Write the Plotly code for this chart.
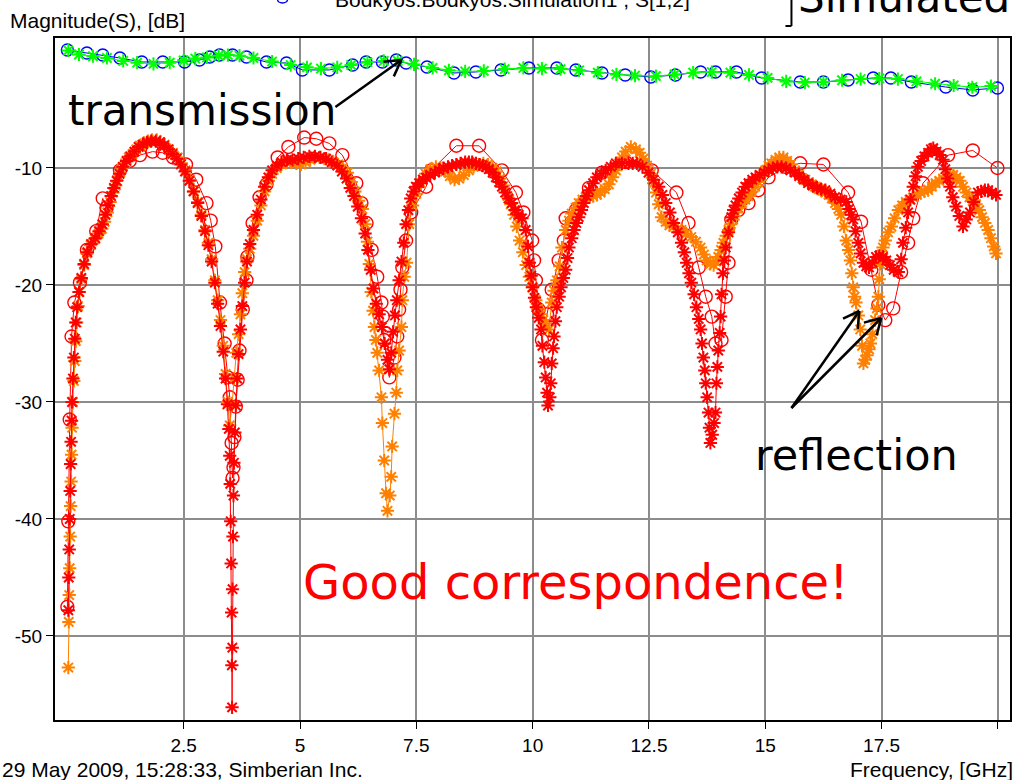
import math
import plotly.graph_objects as go

# ---------------- data (frequency in GHz, magnitude in dB) ----------------
# reflection, simulated (orange asterisks)
refl_sim_a_f = [0.02, 0.03, 0.04, 0.05, 0.06, 0.07, 0.08, 0.09, 0.10, 0.12, 0.14, 0.16, 0.18, 0.20, 0.23, 0.26,
                0.30, 0.36, 0.42, 0.50, 0.59, 0.67, 0.74, 0.80, 0.86, 0.92, 0.98, 1.04, 1.10, 1.16, 1.24, 1.32,
                1.40, 1.48, 1.56, 1.65, 1.73, 1.82, 1.92, 2.00, 2.09, 2.18, 2.27, 2.37, 2.45, 2.54, 2.63, 2.72,
                2.80, 2.88, 2.96, 3.03, 3.10, 3.17, 3.23, 3.29, 3.35, 3.40, 3.45, 3.49, 3.54, 3.58, 3.63, 3.68,
                3.72, 3.76, 3.81, 3.86, 3.92, 4.00, 4.08, 4.16, 4.24, 4.32, 4.40, 4.50, 4.60, 4.70, 4.80, 4.92,
                5.02, 5.12, 5.22, 5.32, 5.42, 5.52, 5.62, 5.72, 5.82, 5.92, 6.02, 6.10, 6.18, 6.26, 6.34, 6.40,
                6.45, 6.49, 6.53, 6.57, 6.60, 6.63, 6.66, 6.70, 6.75, 6.77, 6.81, 6.85, 6.88, 6.93, 6.96, 6.98,
                7.03, 7.07, 7.09, 7.13, 7.18, 7.20, 7.24, 7.29, 7.35, 7.42, 7.50, 7.60, 7.70, 7.80, 7.92, 8.02,
                8.12, 8.22, 8.32, 8.42, 8.52, 8.63, 8.73, 8.84, 8.94, 9.04, 9.14, 9.22, 9.30, 9.38, 9.46, 9.53,
                9.60, 9.66, 9.72, 9.79, 9.86, 9.93, 9.99, 10.07, 10.13, 10.18, 10.23, 10.28, 10.35, 10.41, 10.46,
                10.52, 10.58, 10.63, 10.71, 10.78, 10.84, 10.92, 10.99, 11.07, 11.14, 11.22, 11.30, 11.38, 11.46,
                11.55, 11.64, 11.72, 11.79, 11.86, 11.92, 12.00, 12.11, 12.22, 12.30, 12.38, 12.46, 12.54, 12.60,
                12.65, 12.71, 12.77, 12.86, 12.94, 13.03, 13.12, 13.20, 13.30, 13.41, 13.51, 13.61, 13.68, 13.74,
                13.82, 13.89, 13.94, 13.99, 14.05, 14.10, 14.16, 14.21, 14.26, 14.31, 14.37, 14.42, 14.50, 14.57,
                14.64, 14.71, 14.78, 14.85, 14.92, 15.00, 15.07, 15.13, 15.22, 15.30, 15.39, 15.47, 15.55, 15.64,
                15.72, 15.80, 15.86, 15.94, 16.00, 16.07, 16.15, 16.22, 16.29, 16.36, 16.43, 16.50, 16.57, 16.63,
                16.69, 16.74, 16.79, 16.83, 16.86, 16.89, 16.92, 16.95, 17.00, 17.04, 17.08, 17.11, 17.15, 17.19,
                17.23, 17.26, 17.30, 17.36, 17.40, 17.43, 17.45, 17.47, 17.50, 17.53, 17.58, 17.64, 17.71, 17.78,
                17.86, 17.94, 18.02, 18.10, 18.18, 18.26, 18.34, 18.42, 18.50, 18.58, 18.66, 18.74, 18.82, 18.90,
                18.97, 19.04, 19.11, 19.18, 19.25, 19.32, 19.39, 19.46, 19.53, 19.60, 19.66, 19.72, 19.79, 19.85,
                19.91, 19.96]
refl_sim_a_db = [-52.7, -48.8, -46.5, -44.2, -41.5, -38.9, -36.8, -34.5, -32.2, -30.0, -28.2, -26.5, -24.8, -23.2,
                 -21.8, -20.6, -19.5, -18.3, -17.3, -16.6, -16.1, -15.6, -15.2, -14.6, -13.8, -12.9, -12.1, -11.5,
                 -10.7, -10.1, -9.6, -9.1, -8.8, -8.4, -8.1, -7.9, -7.7, -7.6, -7.6, -7.8, -8.0, -8.4, -8.7, -9.1,
                 -9.6, -10.2, -11.0, -12.0, -12.9, -14.0, -15.3, -16.4, -17.8, -19.6, -21.3, -23.0, -25.2, -27.6,
                 -30.0, -32.0, -30.2, -28.0, -25.8, -24.2, -22.5, -20.7, -18.9, -17.8, -16.9, -15.8, -14.5, -13.2,
                 -12.0, -11.1, -10.5, -10.0, -9.7, -9.5, -9.5, -9.6, -9.7, -9.5, -9.3, -9.1, -9.1, -9.2, -9.3, -9.5,
                 -9.7, -10.0, -10.4, -11.2, -12.0, -12.8, -13.5, -14.8, -16.3, -18.2, -20.6, -22.2, -23.6, -24.7,
                 -25.8, -27.3, -29.6, -31.8, -35.0, -37.8, -39.3, -38.0, -36.4, -33.8, -31.0, -29.2, -27.3, -25.6,
                 -23.6, -21.3, -19.3, -18.1, -14.8, -13.2, -12.2, -11.3, -10.5, -10.1, -9.9, -10.0, -10.3, -10.7,
                 -11.0, -10.9, -10.6, -10.2, -9.9, -9.7, -9.6, -9.7, -10.0, -10.3, -10.9, -11.5, -12.4, -13.1,
                 -14.0, -15.0, -16.2, -17.2, -18.3, -19.3, -20.2, -21.3, -22.0, -22.5, -23.0, -23.3, -23.8, -21.5,
                 -20.5, -19.6, -18.4, -16.8, -15.3, -14.5, -13.9, -13.4, -13.0, -12.7, -12.5, -12.5, -12.4, -12.3,
                 -12.1, -11.8, -11.4, -10.8, -10.2, -9.6, -9.1, -8.6, -8.2, -8.4, -8.7, -9.2, -9.8, -10.5, -11.3,
                 -12.1, -13.1, -14.2, -14.6, -14.9, -15.0, -15.2, -15.3, -15.6, -15.9, -16.3, -16.8, -17.4, -17.9,
                 -18.2, -18.3, -18.0, -17.6, -17.0, -16.4, -15.8, -15.3, -14.8, -14.4, -13.8, -13.4, -13.0, -12.7,
                 -12.4, -12.0, -11.6, -11.2, -10.7, -10.2, -9.8, -9.6, -9.3, -9.1, -9.1, -9.4, -9.7, -10.2, -10.6,
                 -10.9, -11.0, -11.2, -11.4, -11.6, -11.8, -11.9, -12.1, -12.3, -12.6, -13.0, -13.5, -14.0, -15.0,
                 -16.2, -17.0, -17.9, -19.0, -20.2, -21.0, -21.5, -22.6, -23.8, -25.2, -26.7, -26.4, -26.0, -25.5,
                 -25.0, -24.2, -23.0, -22.0, -21.0, -19.5, -18.2, -17.4, -16.8, -16.2, -15.5, -15.0, -14.3, -13.6,
                 -13.2, -12.9, -12.7, -12.5, -12.3, -12.1, -12.0, -11.9, -11.6, -11.3, -11.1, -10.9, -10.7, -10.6,
                 -10.6, -10.8, -11.1, -11.6, -12.1, -12.5, -12.8, -13.1, -13.6, -14.2, -14.7, -15.3, -16.0, -16.7,
                 -17.3]

# reflection, simulated (red asterisks)
refl_sim_b_f = [0.02, 0.03, 0.04, 0.05, 0.06, 0.07, 0.08, 0.09, 0.10, 0.12, 0.14, 0.16, 0.18, 0.21, 0.25, 0.30,
                0.36, 0.43, 0.51, 0.60, 0.68, 0.75, 0.82, 0.88, 0.94, 1.00, 1.06, 1.12, 1.19, 1.27, 1.35, 1.44,
                1.53, 1.62, 1.71, 1.80, 1.90, 1.99, 2.08, 2.17, 2.26, 2.35, 2.44, 2.53, 2.62, 2.71, 2.80, 2.88,
                2.96, 3.03, 3.10, 3.17, 3.23, 3.29, 3.35, 3.40, 3.44, 3.47, 3.49, 3.50, 3.51, 3.52, 3.53, 3.535,
                3.54, 3.545, 3.55, 3.56, 3.57, 3.58, 3.60, 3.62, 3.65, 3.68, 3.72, 3.76, 3.81, 3.86, 3.92, 4.00,
                4.08, 4.16, 4.24, 4.32, 4.40, 4.50, 4.60, 4.72, 4.84, 4.96, 5.08, 5.20, 5.32, 5.44, 5.56, 5.68,
                5.80, 5.90, 6.00, 6.08, 6.16, 6.24, 6.32, 6.40, 6.46, 6.52, 6.58, 6.64, 6.70, 6.76, 6.82, 6.88,
                6.92, 6.96, 7.00, 7.04, 7.08, 7.13, 7.18, 7.23, 7.28, 7.33, 7.38, 7.44, 7.49, 7.56, 7.64, 7.71,
                7.80, 7.90, 7.99, 8.08, 8.18, 8.27, 8.36, 8.45, 8.55, 8.63, 8.70, 8.78, 8.86, 8.93, 8.99, 9.06,
                9.14, 9.21, 9.28, 9.34, 9.41, 9.48, 9.55, 9.62, 9.70, 9.77, 9.85, 9.90, 9.93, 9.97, 10.00, 10.04,
                10.08, 10.13, 10.18, 10.21, 10.25, 10.28, 10.31, 10.33, 10.37, 10.39, 10.41, 10.44, 10.46, 10.49,
                10.52, 10.57, 10.61, 10.66, 10.71, 10.75, 10.78, 10.84, 10.89, 10.94, 10.99, 11.05, 11.10, 11.16,
                11.21, 11.30, 11.38, 11.48, 11.57, 11.68, 11.79, 11.92, 12.06, 12.15, 12.24, 12.36, 12.49, 12.60,
                12.71, 12.79, 12.86, 12.95, 13.03, 13.12, 13.20, 13.26, 13.31, 13.36, 13.41, 13.47, 13.52, 13.57,
                13.61, 13.64, 13.67, 13.70, 13.72, 13.75, 13.78, 13.80, 13.82, 13.86, 13.90, 13.93, 13.95, 13.97,
                13.99, 14.02, 14.04, 14.06, 14.09, 14.12, 14.15, 14.21, 14.27, 14.32, 14.36, 14.43, 14.50, 14.57,
                14.64, 14.72, 14.79, 14.88, 14.98, 15.07, 15.16, 15.26, 15.35, 15.45, 15.54, 15.64, 15.73, 15.83,
                15.92, 16.02, 16.11, 16.20, 16.29, 16.40, 16.50, 16.62, 16.74, 16.80, 16.85, 16.89, 16.94, 17.00,
                17.05, 17.11, 17.17, 17.23, 17.30, 17.38, 17.45, 17.53, 17.60, 17.68, 17.76, 17.86, 17.92, 17.96,
                18.02, 18.07, 18.12, 18.18, 18.23, 18.28, 18.35, 18.42, 18.50, 18.56, 18.61, 18.68, 18.75, 18.82,
                18.87, 18.92, 18.97, 19.03, 19.10, 19.17, 19.25, 19.32, 19.40, 19.48, 19.57, 19.64, 19.72, 19.79,
                19.87, 19.96]
refl_sim_b_db = [-47.8, -45.0, -42.6, -40.0, -37.6, -35.3, -33.4, -31.6, -30.0, -28.0, -26.2, -24.6, -23.2, -21.9,
                 -20.6, -19.4, -18.2, -17.2, -16.5, -16.0, -15.4, -14.8, -14.0, -13.2, -12.4, -11.7, -11.1, -10.5,
                 -9.9, -9.4, -9.0, -8.6, -8.2, -8.0, -7.8, -7.7, -7.7, -7.8, -8.1, -8.4, -8.8, -9.2, -9.7, -10.3,
                 -11.1, -12.0, -13.0, -14.1, -15.4, -16.6, -18.0, -19.8, -21.6, -23.5, -25.7, -28.0, -30.2, -32.3,
                 -34.6, -37.0, -40.2, -43.8, -48.0, -52.5, -56.1, -51.0, -46.0, -41.5, -38.0, -35.2, -32.6, -30.3,
                 -28.0, -25.9, -23.8, -21.8, -19.8, -18.0, -16.5, -15.3, -14.0, -12.7, -11.6, -10.8, -10.2, -9.8,
                 -9.5, -9.3, -9.3, -9.2, -9.1, -9.0, -9.0, -9.1, -9.2, -9.5, -9.8, -10.3, -10.9, -11.7, -12.4, -13.3,
                 -14.3, -15.6, -17.0, -18.7, -20.3, -21.6, -22.5, -23.6, -25.0, -26.4, -27.2, -25.8, -24.0, -22.6,
                 -21.3, -19.6, -18.0, -16.4, -14.8, -13.6, -12.6, -12.0, -11.6, -11.3, -11.0, -10.8, -10.6, -10.4,
                 -10.2, -10.0, -9.9, -9.8, -9.7, -9.6, -9.5, -9.5, -9.5, -9.6, -9.7, -9.8, -9.9, -10.1, -10.4, -10.8,
                 -11.2, -11.6, -12.1, -12.6, -13.0, -13.6, -14.0, -14.3, -15.3, -16.7, -18.1, -19.2, -20.2, -21.1,
                 -21.9, -22.8, -23.8, -25.2, -26.6, -27.9, -29.2, -30.3, -29.6, -28.4, -26.7, -25.4, -24.4, -23.1,
                 -21.9, -21.0, -20.2, -19.4, -18.7, -17.7, -16.8, -16.0, -15.3, -14.7, -14.2, -13.6, -13.0, -12.4,
                 -11.9, -11.3, -10.8, -10.5, -10.2, -9.9, -9.6, -9.6, -9.6, -9.6, -9.6, -9.9, -10.4, -11.0, -11.6,
                 -12.3, -13.0, -13.8, -14.7, -15.5, -16.4, -17.2, -18.1, -19.0, -19.8, -20.8, -21.9, -22.9, -23.8,
                 -25.0, -26.2, -27.3, -28.4, -29.6, -30.9, -32.2, -33.5, -32.8, -31.8, -30.9, -28.4, -27.0, -25.6,
                 -24.1, -22.7, -20.8, -19.0, -17.9, -16.8, -15.5, -14.2, -13.6, -13.2, -12.6, -12.1, -11.6, -11.3,
                 -11.0, -10.8, -10.6, -10.4, -10.2, -10.0, -9.9, -9.9, -10.0, -10.2, -10.4, -10.7, -11.0, -11.3,
                 -11.5, -11.7, -11.8, -11.9, -12.2, -12.5, -12.7, -12.9, -13.5, -14.0, -14.4, -15.4, -16.4, -17.3,
                 -18.1, -18.4, -18.5, -18.1, -17.6, -17.5, -17.6, -17.9, -18.3, -18.7, -18.9, -17.8, -16.4, -15.1,
                 -13.8, -12.7, -11.6, -10.7, -9.9, -9.4, -9.0, -8.7, -8.4, -8.3, -8.6, -8.9, -9.3, -10.1, -10.9,
                 -11.6, -12.5, -13.3, -14.1, -15.0, -14.4, -13.8, -12.9, -12.1, -12.0, -11.9, -11.9, -12.1, -12.3]

# reflection, measured (red circles)
refl_meas_f = [0.00, 0.02, 0.05, 0.09, 0.15, 0.27, 0.42, 0.62, 0.76, 0.84, 1.13, 1.34, 1.56, 1.83, 2.05, 2.27,
               2.55, 2.77, 2.99, 3.08, 3.18, 3.28, 3.38, 3.45, 3.49, 3.53, 3.55, 3.57, 3.59, 3.62, 3.66, 3.70,
               3.77, 3.85, 3.87, 3.98, 4.13, 4.28, 4.52, 4.75, 5.09, 5.35, 5.63, 5.91, 6.21, 6.32, 6.43, 6.54,
               6.66, 6.75, 6.78, 6.81, 6.92, 7.03, 7.09, 7.13, 7.16, 7.20, 7.28, 7.39, 7.71, 7.82, 8.36, 8.85,
               9.34, 9.64, 9.80, 9.99, 10.03, 10.07, 10.13, 10.20, 10.31, 10.41, 10.56, 10.67, 10.71, 10.93,
               11.21, 11.49, 12.00, 12.56, 13.09, 13.35, 13.57, 13.72, 13.85, 13.93, 14.06, 14.15, 14.21, 14.27,
               14.42, 14.64, 14.85, 15.07, 15.43, 15.75, 16.25, 16.78, 17.06, 17.28, 17.43, 17.58, 17.75, 17.92,
               18.07, 18.18, 18.39, 18.93, 19.46, 19.99]
refl_meas_db = [-47.5, -40.2, -31.5, -24.4, -21.5, -19.8, -17.0, -15.4, -12.6, -13.4, -10.2, -9.4, -8.9, -8.6,
                -8.7, -9.1, -9.7, -11.0, -13.0, -14.5, -16.7, -21.5, -25.0, -27.9, -29.6, -33.5, -36.5, -35.6,
                -33.0, -30.4, -28.1, -25.6, -22.1, -19.6, -17.6, -14.7, -12.5, -11.4, -9.1, -8.2, -7.4, -7.5,
                -7.9, -8.9, -11.3, -13.0, -14.7, -17.0, -19.3, -21.5, -22.7, -24.7, -27.9, -26.2, -24.4, -22.1,
                -20.4, -18.5, -16.2, -13.8, -11.6, -10.2, -8.1, -8.1, -10.2, -12.1, -13.8, -16.2, -17.9, -19.6,
                -22.1, -24.7, -22.5, -20.4, -17.9, -16.2, -14.3, -13.6, -11.7, -10.4, -9.5, -10.2, -12.1, -14.7,
                -18.5, -21.0, -22.7, -25.0, -24.7, -21.0, -18.1, -14.4, -13.6, -13.0, -11.9, -10.8, -9.9, -9.6,
                -9.7, -12.1, -14.6, -18.7, -21.7, -23.0, -22.0, -18.9, -16.4, -14.3, -11.3, -8.9, -8.5, -10.0]

# transmission, measured (blue circles)
trans_meas_f = [0.00, 0.42, 0.76, 1.13, 1.60, 2.05, 2.52, 2.84, 3.06, 3.27, 3.55, 3.85, 4.28, 4.71, 5.05, 5.63,
                6.13, 6.42, 6.77, 7.07, 7.28, 7.73, 8.31, 8.78, 9.32, 9.92, 10.52, 10.93, 11.49, 11.99, 12.54,
                13.07, 13.61, 13.93, 14.38, 14.92, 15.75, 16.25, 16.78, 17.32, 17.70, 18.14, 18.88, 19.46, 19.99]
trans_meas_db = [0.08, -0.17, -0.34, -0.60, -0.94, -0.94, -0.94, -0.77, -0.51, -0.34, -0.34, -0.51, -0.94,
                 -1.03, -1.62, -1.62, -1.20, -0.94, -0.94, -0.77, -1.03, -1.37, -1.88, -1.79, -1.62, -1.45, -1.45,
                 -1.62, -1.88, -2.05, -2.22, -2.05, -1.79, -1.79, -1.79, -2.31, -2.65, -2.65, -2.48, -2.31, -2.31,
                 -2.65, -3.08, -3.33, -3.16]

# transmission, simulated (green asterisks)
trans_sim_f = [0.02, 0.25, 0.55, 0.85, 1.20, 1.50, 1.85, 2.20, 2.50, 2.75, 3.00, 3.25, 3.45, 3.70, 4.00, 4.40,
               4.80, 5.15, 5.45, 5.80, 6.10, 6.45, 6.80, 7.10, 7.45, 7.85, 8.20, 8.55, 8.95, 9.40, 9.80, 10.20,
               10.60, 11.00, 11.40, 11.80, 12.20, 12.65, 13.05, 13.45, 13.85, 14.25, 14.65, 15.05, 15.45, 15.85,
               16.25, 16.65, 17.05, 17.45, 17.85, 18.25, 18.65, 19.05, 19.45, 19.85]
trans_sim_db = [0.05, -0.30, -0.45, -0.60, -0.85, -1.00, -1.10, -1.00, -0.80, -0.65, -0.55, -0.40, -0.35, -0.40,
                -0.60, -0.90, -1.20, -1.40, -1.50, -1.40, -1.20, -0.95, -0.85, -0.85, -1.15, -1.45, -1.65, -1.75,
                -1.70, -1.55, -1.45, -1.50, -1.55, -1.65, -1.85, -2.00, -2.10, -2.15, -2.00, -1.85, -1.80, -1.85,
                -2.05, -2.30, -2.60, -2.70, -2.65, -2.50, -2.40, -2.35, -2.40, -2.60, -2.80, -2.95, -3.10, -3.00]

# axis ticks
x_tick_vals = [2.5, 5, 7.5, 10, 12.5, 15, 17.5, 20]
x_tick_text = ["2.5", "5", "7.5", "10", "12.5", "15", "17.5", ""]
y_tick_vals = [-10, -20, -30, -40, -50]
y_tick_text = ["-10", "-20", "-30", "-40", "-50"]

# ---------------- figure ----------------
W, H = 1017, 780
L, R, T, B = 55, 5, 38, 60
PW, PH = W - L - R, H - T - B

RED = "#ff0000"
ORANGE = "#ff8000"
BLUE = "#0000ff"
GREEN = "#00ff00"

fig = go.Figure()


def add_series(fx, fy, color, symbol, size, lw):
    fig.add_trace(go.Scatter(
        x=fx, y=fy, mode="lines+markers",
        line=dict(color=color, width=1),
        marker=dict(symbol=symbol, size=size, color=color, line=dict(color=color, width=lw)),
        showlegend=False, hoverinfo="skip"))


add_series(trans_meas_f, trans_meas_db, BLUE, "circle-open", 12, 1.4)
add_series(trans_sim_f, trans_sim_db, GREEN, "asterisk-open", 11, 2)
add_series(refl_meas_f, refl_meas_db, RED, "circle-open", 13, 1.4)
add_series(refl_sim_a_f, refl_sim_a_db, ORANGE, "asterisk-open", 11, 2)
add_series(refl_sim_b_f, refl_sim_b_db, RED, "asterisk-open", 11, 2)


def px(x, y):
    """page pixel -> paper coordinates"""
    return (x - L) / PW, (H - B - y) / PH


shapes = []


def seg(a, b, c, d, width=2.5, color="black"):
    p0, p1 = px(a, b), px(c, d)
    shapes.append(dict(type="line", xref="paper", yref="paper", x0=p0[0], y0=p0[1], x1=p1[0], y1=p1[1],
                       line=dict(color=color, width=width)))


def arrow(x1, y1, x2, y2, head=18, width=2.5):
    ang = math.atan2(y2 - y1, x2 - x1)
    seg(x1, y1, x2, y2, width)
    for d in (math.radians(150), math.radians(-150)):
        seg(x2 + head * math.cos(ang + d), y2 + head * math.sin(ang + d), x2, y2, width)


arrow(336, 107, 402, 60)
arrow(793, 408, 861, 311)
arrow(793, 408, 883, 318)

# bracket next to the "Simulated" label
seg(793, -5, 793, 26, 2)
seg(787, 26, 793, 26, 2)
# legend sample marker
p0, p1 = px(278, -4), px(288, 3)
shapes.append(dict(type="circle", xref="paper", yref="paper", x0=p0[0], y0=p0[1], x1=p1[0], y1=p1[1],
                   line=dict(color=BLUE, width=1.5)))

TICKFONT = dict(family="Liberation Sans", size=19, color="black")
BIGFONT = "DejaVu Sans"


def label(text, x, y, size, color="black", family="Liberation Sans", xanchor="left"):
    pxx, pyy = px(x, y)
    return dict(text=text, xref="paper", yref="paper", x=pxx, y=pyy, xanchor=xanchor, yanchor="middle",
                showarrow=False, font=dict(family=family, size=size, color=color))


annotations = [
    label("Magnitude(S), [dB]", 8, 20, 21),
    label("29 May 2009, 15:28:33, Simberian Inc.", 0, 769, 21),
    label("Frequency, [GHz]", 1017, 769, 21, xanchor="right"),
    label("Bodkyos.Bodkyos.Simulation1 , S[1,2]", 334, -1, 21),
    label("Simulated", 798, -3, 42, family=BIGFONT),
    label("transmission", 66, 110, 42, family=BIGFONT),
    label("reflection", 754, 455, 43, family=BIGFONT),
    label("Good correspondence!", 302, 582, 48, color=RED, family=BIGFONT),
]

fig.update_layout(
    width=W, height=H, autosize=False,
    margin=dict(l=L, r=R, t=T, b=B, pad=0),
    paper_bgcolor="white", plot_bgcolor="white",
    shapes=shapes, annotations=annotations,
    xaxis=dict(range=[-0.266, 20.26], tickvals=x_tick_vals, ticktext=x_tick_text,
               showgrid=True, gridcolor="#8c8c8c", gridwidth=2, zeroline=False,
               showline=True, linecolor="black", linewidth=2, mirror=True,
               ticks="outside", ticklen=7, tickcolor="black", tickfont=TICKFONT),
    yaxis=dict(range=[-57.18, 1.11], tickvals=y_tick_vals, ticktext=y_tick_text,
               showgrid=True, gridcolor="#8c8c8c", gridwidth=2, zeroline=False,
               showline=True, linecolor="black", linewidth=2, mirror=True,
               ticks="outside", ticklen=7, tickcolor="black", tickfont=TICKFONT),
)

fig.write_html("out.html")
